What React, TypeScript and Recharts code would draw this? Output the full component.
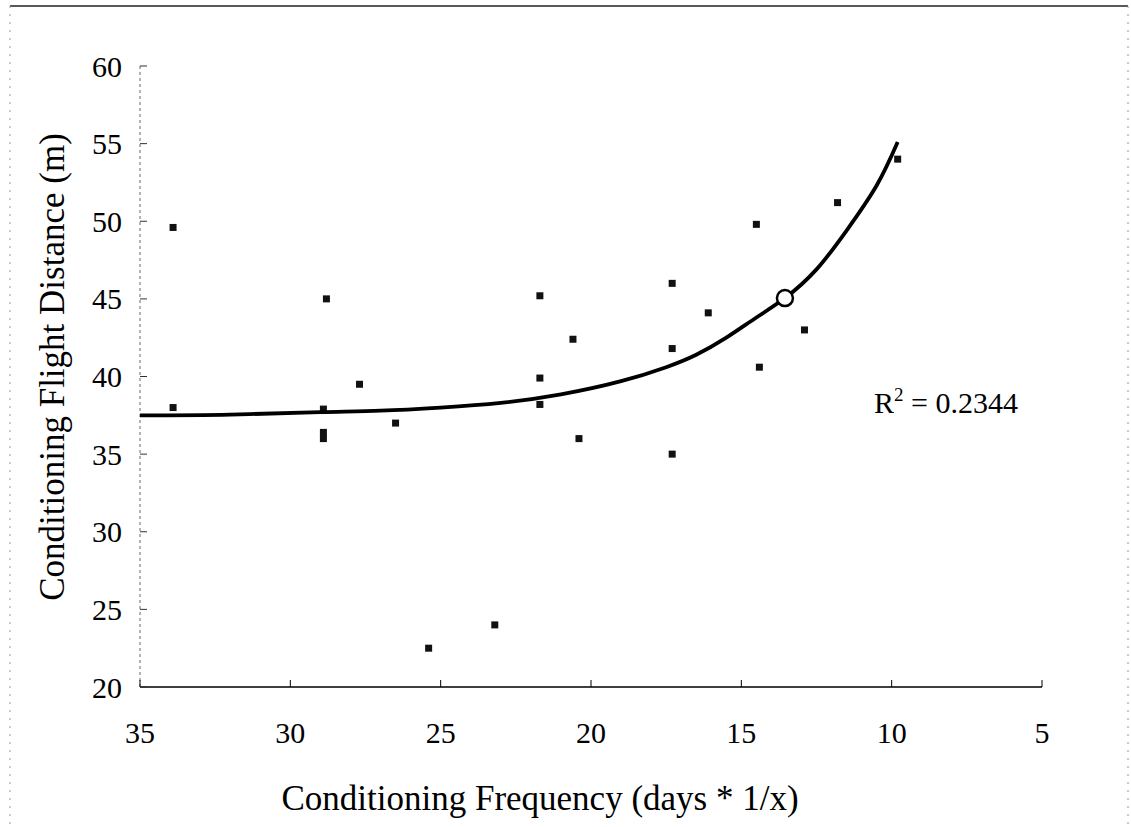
import React from 'react';
import { ScatterChart, Scatter, XAxis, YAxis, Customized } from 'recharts';

// Observed points: conditioning frequency (x) vs flight distance (y)
const freqX = [33.9, 33.9, 28.8, 28.9, 28.9, 28.9, 27.7, 26.5, 25.4, 23.2, 21.7, 21.7, 21.7, 20.6, 20.4, 17.3, 17.3, 17.3, 16.1, 14.5, 14.4, 12.9, 11.8, 9.8];
const distY = [49.6, 38.0, 45.0, 37.9, 36.4, 36.0, 39.5, 37.0, 22.5, 24.0, 45.2, 39.9, 38.2, 42.4, 36.0, 46.0, 41.8, 35.0, 44.1, 49.8, 40.6, 43.0, 51.2, 54.0];

// Trend line
const trendX = [35, 32, 29, 27, 25, 23, 21, 19, 17.5, 16.5, 15.5, 14.5, 13.55, 12.5, 11.5, 10.5, 9.8];
const trendY = [37.5, 37.55, 37.7, 37.8, 38.0, 38.3, 38.85, 39.7, 40.6, 41.4, 42.5, 43.8, 45.05, 46.9, 49.4, 52.3, 55.1];

// Highlighted open point
const markX = [13.55];
const markY = [45.05];

const xTicks = [35, 30, 25, 20, 15, 10, 5];
const yTicks = [20, 25, 30, 35, 40, 45, 50, 55, 60];

const xTitle = 'Conditioning Frequency (days * 1/x)';
const yTitle = 'Conditioning Flight Distance (m)';
const r2Label = '0.2344';

const points = freqX.map((x, i) => ({ x, y: distY[i] }));
const trend = trendX.map((x, i) => ({ x, y: trendY[i] }));
const mark = markX.map((x, i) => ({ x, y: markY[i] }));

const FONT = '"Liberation Serif", "Times New Roman", serif';
const X_MARGIN = 44;
const Y_MARGIN = 18;
const TICK_LEN = 7;

const XTick = (props: any) => {
  const { x, y, payload } = props;
  const axisY = y - X_MARGIN;
  return (
    <g>
      <line x1={x} y1={axisY} x2={x} y2={axisY - TICK_LEN} stroke="#000" strokeWidth={1} />
      <text x={x} y={axisY + 56} textAnchor="middle" fontFamily={FONT} fontSize={30} fill="#000">
        {payload.value}
      </text>
    </g>
  );
};

const YTick = (props: any) => {
  const { x, y, payload } = props;
  const axisX = x + Y_MARGIN;
  return (
    <g>
      <line x1={axisX} y1={y} x2={axisX + TICK_LEN} y2={y} stroke="#333" strokeWidth={1} />
      <text x={axisX - 18} y={y + 10.5} textAnchor="end" fontFamily={FONT} fontSize={30} fill="#000">
        {payload.value}
      </text>
    </g>
  );
};

const Square = (props: any) => {
  const { cx, cy } = props;
  if (cx == null || cy == null) return <g />;
  return <rect x={cx - 3.5} y={cy - 3.5} width={7} height={7} fill="#111" />;
};

const NoShape = () => <g />;

const OpenCircle = (props: any) => {
  const { cx, cy } = props;
  if (cx == null || cy == null) return <g />;
  return <circle cx={cx} cy={cy} r={8} fill="#fff" stroke="#000" strokeWidth={2.5} />;
};

const Decorations = () => (
  <g>
    <line x1={10} y1={6} x2={1128} y2={6} stroke="#222" strokeWidth={1.5} />
    <line x1={10} y1={6} x2={10} y2={827} stroke="#999" strokeWidth={1} strokeDasharray="2 6" />
    <line x1={1128} y1={6} x2={1128} y2={827} stroke="#999" strokeWidth={1} strokeDasharray="2 6" />
    <text
      x={64}
      y={367}
      transform="rotate(-90, 64, 367)"
      textAnchor="middle"
      fontFamily={FONT}
      fontSize={35}
      fill="#000"
    >
      {yTitle}
    </text>
    <text x={540} y={810} textAnchor="middle" fontFamily={FONT} fontSize={35} fill="#000">
      {xTitle}
    </text>
    <text x={874} y={413} fontFamily={FONT} fontSize={30} fill="#000">
      R
      <tspan fontSize={19} dy={-12}>2</tspan>
      <tspan dy={12}>{' = ' + r2Label}</tspan>
    </text>
  </g>
);

export default function App() {
  return (
    <div style={{ position: 'absolute', left: 0, top: 0, width: 1131, height: 827, background: '#fff' }}>
      <ScatterChart
        width={1131}
        height={827}
        margin={{ top: 66, right: 89, bottom: 80, left: 60 }}
      >
        <XAxis
          type="number"
          dataKey="x"
          domain={[5, 35]}
          reversed
          ticks={xTicks}
          interval={0}
          height={60}
          allowDataOverflow
          axisLine={{ stroke: '#000', strokeWidth: 1.5 }}
          tickLine={false}
          tickSize={0}
          tickMargin={X_MARGIN}
          tick={<XTick />}
        />
        <YAxis
          type="number"
          dataKey="y"
          domain={[20, 60]}
          ticks={yTicks}
          interval={0}
          width={80}
          allowDataOverflow
          axisLine={{ stroke: '#666', strokeWidth: 1, strokeDasharray: '3 3' }}
          tickLine={false}
          tickSize={0}
          tickMargin={Y_MARGIN}
          tick={<YTick />}
        />
        <Scatter data={points} shape={Square} isAnimationActive={false} />
        <Scatter
          data={trend}
          shape={NoShape}
          line={{ stroke: '#000', strokeWidth: 3.8 }}
          lineJointType="natural"
          isAnimationActive={false}
        />
        <Scatter data={mark} shape={OpenCircle} isAnimationActive={false} />
        <Customized component={Decorations} />
      </ScatterChart>
    </div>
  );
}
